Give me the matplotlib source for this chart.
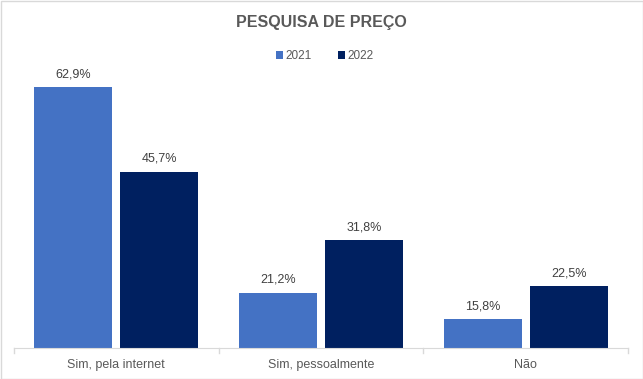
import matplotlib
matplotlib.use("Agg")
import matplotlib.pyplot as plt
import numpy as np
from matplotlib.patches import Rectangle

categories = ["Sim, pela internet", "Sim, pessoalmente", "Não"]
series_names = ["2021", "2022"]
values_2021 = [62.9, 21.2, 15.8]
values_2022 = [45.7, 31.8, 22.5]
colors = ["#4472C4", "#002060"]

plt.rcParams['font.family'] = ['Liberation Sans', 'DejaVu Sans']
fig = plt.figure(figsize=(6.43, 3.79), dpi=100)
ax = fig.add_axes([14/643, 31/379, 614/643, 296/379])

x = np.arange(len(categories))
w = 0.38
off = 0.21
for vals, name, c, o in zip([values_2021, values_2022], series_names, colors, [-off, off]):
    ax.bar(x + o, vals, width=w, color=c, label=name)
    for xi, v in zip(x + o, vals):
        ax.text(xi, v + 1.4, f"{v:.1f}%".replace(".", ","), ha="center", va="bottom",
                fontsize=9, color="#404040")

ax.set_xlim(-0.5, 2.5)
ax.set_ylim(10, 70)
ax.set_yticks([])
ax.set_xticks(x)
ax.set_xticklabels(categories, fontsize=9, color="#595959")
ax.tick_params(axis="x", length=0, pad=8)
for s in ["top", "right", "left"]:
    ax.spines[s].set_visible(False)
ax.spines["bottom"].set_color("#D9D9D9")
for b in [-0.5, 0.5, 1.5, 2.5]:
    ax.plot([b, b], [10, 8.9], color="#D9D9D9", lw=1, clip_on=False)

fig.text(0.5, 1 - 23/379, "PESQUISA DE PREÇO", ha="center", va="center",
         fontsize=11.5, fontweight="bold", color="#595959")
leg = fig.legend(loc="center", bbox_to_anchor=(0.505, 1 - 56/379), ncol=2, frameon=False,
                 fontsize=8.5, handlelength=0.6, handleheight=0.6, columnspacing=2.2,
                 handletextpad=0.25)
for t in leg.get_texts():
    t.set_color("#595959")

fig.add_artist(Rectangle((0.5/643, 0.5/379), 1 - 1/643, 1 - 1/379, transform=fig.transFigure,
                         fill=False, edgecolor="#D9D9D9", lw=1))
fig.savefig("out.png", dpi=100)
